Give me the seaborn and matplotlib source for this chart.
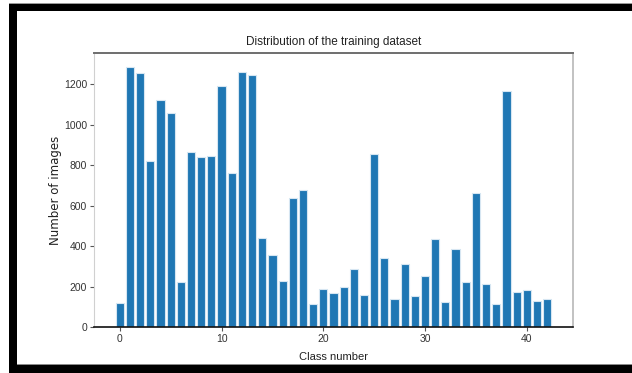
import matplotlib
matplotlib.use("Agg")
import matplotlib.pyplot as plt
from matplotlib.patches import Rectangle
import seaborn as sns
import pandas as pd

# Number of training images per traffic-sign class
class_ids = list(range(43))
image_counts = [120, 1285, 1256, 821, 1121, 1058, 224, 865, 839, 844,
                1193, 760, 1261, 1246, 438, 356, 227, 636, 676, 114,
                188, 168, 198, 285, 158, 855, 340, 137, 311, 153,
                254, 433, 124, 386, 224, 663, 211, 114, 1168, 171,
                185, 129, 140]

df = pd.DataFrame({"class": class_ids, "count": image_counts})

sns.set_style("white")
plt.rcParams["font.family"] = ["DejaVu Sans"]

fig = plt.figure(figsize=(6.32, 3.73), dpi=100)
ax = fig.add_axes([0.1487, 0.1233, 0.7579, 0.7337])

sns.barplot(data=df, x="class", y="count", native_scale=True,
            color="#1f77b4", saturation=1, width=0.8,
            edgecolor="#d6e6f2", linewidth=0.8, ax=ax)

ax.set_xlim(-2.54, 44.54)
ax.set_ylim(0, 1353)
ax.set_xticks([0, 10, 20, 30, 40])
ax.set_yticks([0, 200, 400, 600, 800, 1000, 1200])

narrow = dict(family=["Liberation Sans", "DejaVu Sans"])
ax.set_xticklabels(["0", "10", "20", "30", "40"], fontsize=7.5, color="#333333", **narrow)
ax.set_yticklabels(["0", "200", "400", "600", "800", "1000", "1200"],
                   fontsize=7.5, color="#333333", **narrow)
ax.tick_params(axis="both", length=3, width=0.8, color="#555555", pad=2, direction="out",
               bottom=True, left=True)

ax.set_title("Distribution of the training dataset", fontsize=8.5, color="#222222",
             pad=6, **narrow)
ax.set_xlabel("Class number", fontsize=8, color="#222222", labelpad=6, **narrow)
ax.set_ylabel("Number of images", fontsize=8.5, color="#222222")
ax.yaxis.set_label_coords(-0.066, 0.5)

for side, col, lw in [("top", "#6e6e6e", 1.4), ("right", "#b8b8b8", 1.2),
                      ("left", "#d0d0d0", 0.8), ("bottom", "#111111", 1.2)]:
    ax.spines[side].set_visible(True)
    ax.spines[side].set_color(col)
    ax.spines[side].set_linewidth(lw)

# Black frame on the left, top and bottom edges of the figure
W, H = 632, 373
def frame(x0, y0, x1, y1, col="black"):
    fig.patches.append(Rectangle((x0 / W, 1 - y1 / H), (x1 - x0) / W, (y1 - y0) / H,
                                 transform=fig.transFigure, facecolor=col,
                                 edgecolor="none", zorder=10))

frame(9, 3, W, 4, col="#9a9a9a")
frame(9, 4, W, 11)
frame(9, 4, 17, 373)
frame(17, 364, W, 365, col="#8a8a8a")
frame(9, 365, W, 373)

fig.savefig("out.png", dpi=100)
